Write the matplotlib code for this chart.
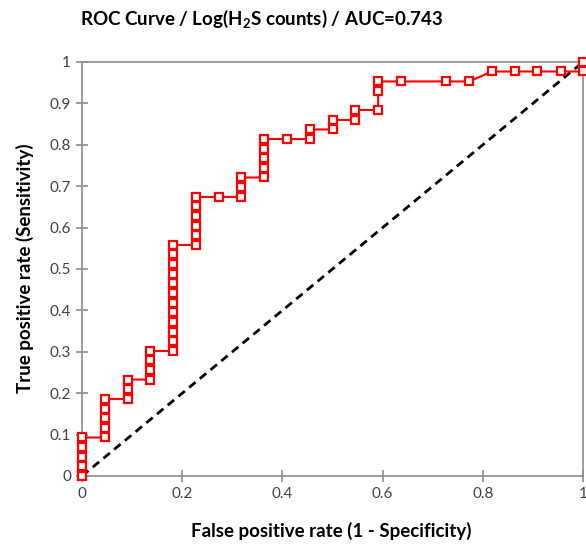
import matplotlib
matplotlib.use("Agg")
import matplotlib.pyplot as plt

# ROC points (FPR, TPR)
fpr = [0.000, 0.000, 0.000, 0.000, 0.000,
       0.045, 0.045, 0.045, 0.045, 0.045,
       0.091, 0.091, 0.091,
       0.136, 0.136, 0.136, 0.136,
       0.182, 0.182, 0.182, 0.182, 0.182, 0.182, 0.182, 0.182, 0.182, 0.182, 0.182, 0.182,
       0.227, 0.227, 0.227, 0.227, 0.227, 0.227,
       0.273,
       0.318, 0.318, 0.318,
       0.364, 0.364, 0.364, 0.364, 0.364,
       0.409,
       0.455, 0.455,
       0.500, 0.500,
       0.545, 0.545,
       0.591, 0.591, 0.591,
       0.636, 0.727, 0.773,
       0.818, 0.864, 0.909, 0.955,
       1.000, 1.000]
tpr = [0.000, 0.023, 0.047, 0.070, 0.093,
       0.093, 0.116, 0.140, 0.163, 0.186,
       0.186, 0.209, 0.233,
       0.233, 0.256, 0.279, 0.302,
       0.302, 0.326, 0.349, 0.372, 0.395, 0.419, 0.442, 0.465, 0.488, 0.512, 0.535, 0.558,
       0.558, 0.581, 0.605, 0.628, 0.651, 0.674,
       0.674,
       0.674, 0.698, 0.721,
       0.721, 0.744, 0.767, 0.791, 0.814,
       0.814,
       0.814, 0.837,
       0.837, 0.860,
       0.860, 0.884,
       0.884, 0.930, 0.953,
       0.953, 0.953, 0.953,
       0.977, 0.977, 0.977, 0.977,
       0.977, 1.000]
diag = [0, 1]
ticks = [0, 0.1, 0.2, 0.3, 0.4, 0.5, 0.6, 0.7, 0.8, 0.9, 1]
xticks = [0, 0.2, 0.4, 0.6, 0.8, 1]

plt.rcParams['font.family'] = ['Lato', 'DejaVu Sans']
plt.rcParams['mathtext.default'] = 'regular'

fig = plt.figure(figsize=(5.86, 5.47), dpi=100)
ax = fig.add_axes([0.14, 0.1298, 0.855, 0.7569])

ax.plot(diag, diag, color='black', lw=2, linestyle=(0, (3, 2)), zorder=2)
ax.plot(fpr, tpr, color='red', lw=1.5, marker='s', markersize=5.8,
        markerfacecolor='white', markeredgecolor='red', markeredgewidth=1.6,
        zorder=3, clip_on=False)

ax.set_xlim(0, 1)
ax.set_ylim(0, 1)
ax.set_xticks(xticks)
ax.set_xticklabels(['0', '0.2', '0.4', '0.6', '0.8', '1'])
ax.set_yticks(ticks)
ax.set_yticklabels(['0', '0.1', '0.2', '0.3', '0.4', '0.5', '0.6', '0.7', '0.8', '0.9', '1'])
for s in ax.spines.values():
    s.set_color('#8c8c8c')
    s.set_linewidth(1.2)
ax.tick_params(direction='inout', length=8, width=1.2, color='#8c8c8c',
               labelsize=11, labelcolor='#404040', pad=4)

fig.text(0.447, 0.965, 'ROC Curve / Log(H$_2$S counts) / AUC=0.743',
         ha='center', va='center', fontsize=13.5, fontweight='bold')
fig.text(0.565, 0.029, 'False positive rate (1 - Specificity)',
         ha='center', va='center', fontsize=13.5, fontweight='bold')
fig.text(0.043, 0.51, 'True positive rate (Sensitivity)', rotation=90,
         ha='center', va='center', fontsize=13.5, fontweight='bold')

fig.savefig('out.png', dpi=100)
